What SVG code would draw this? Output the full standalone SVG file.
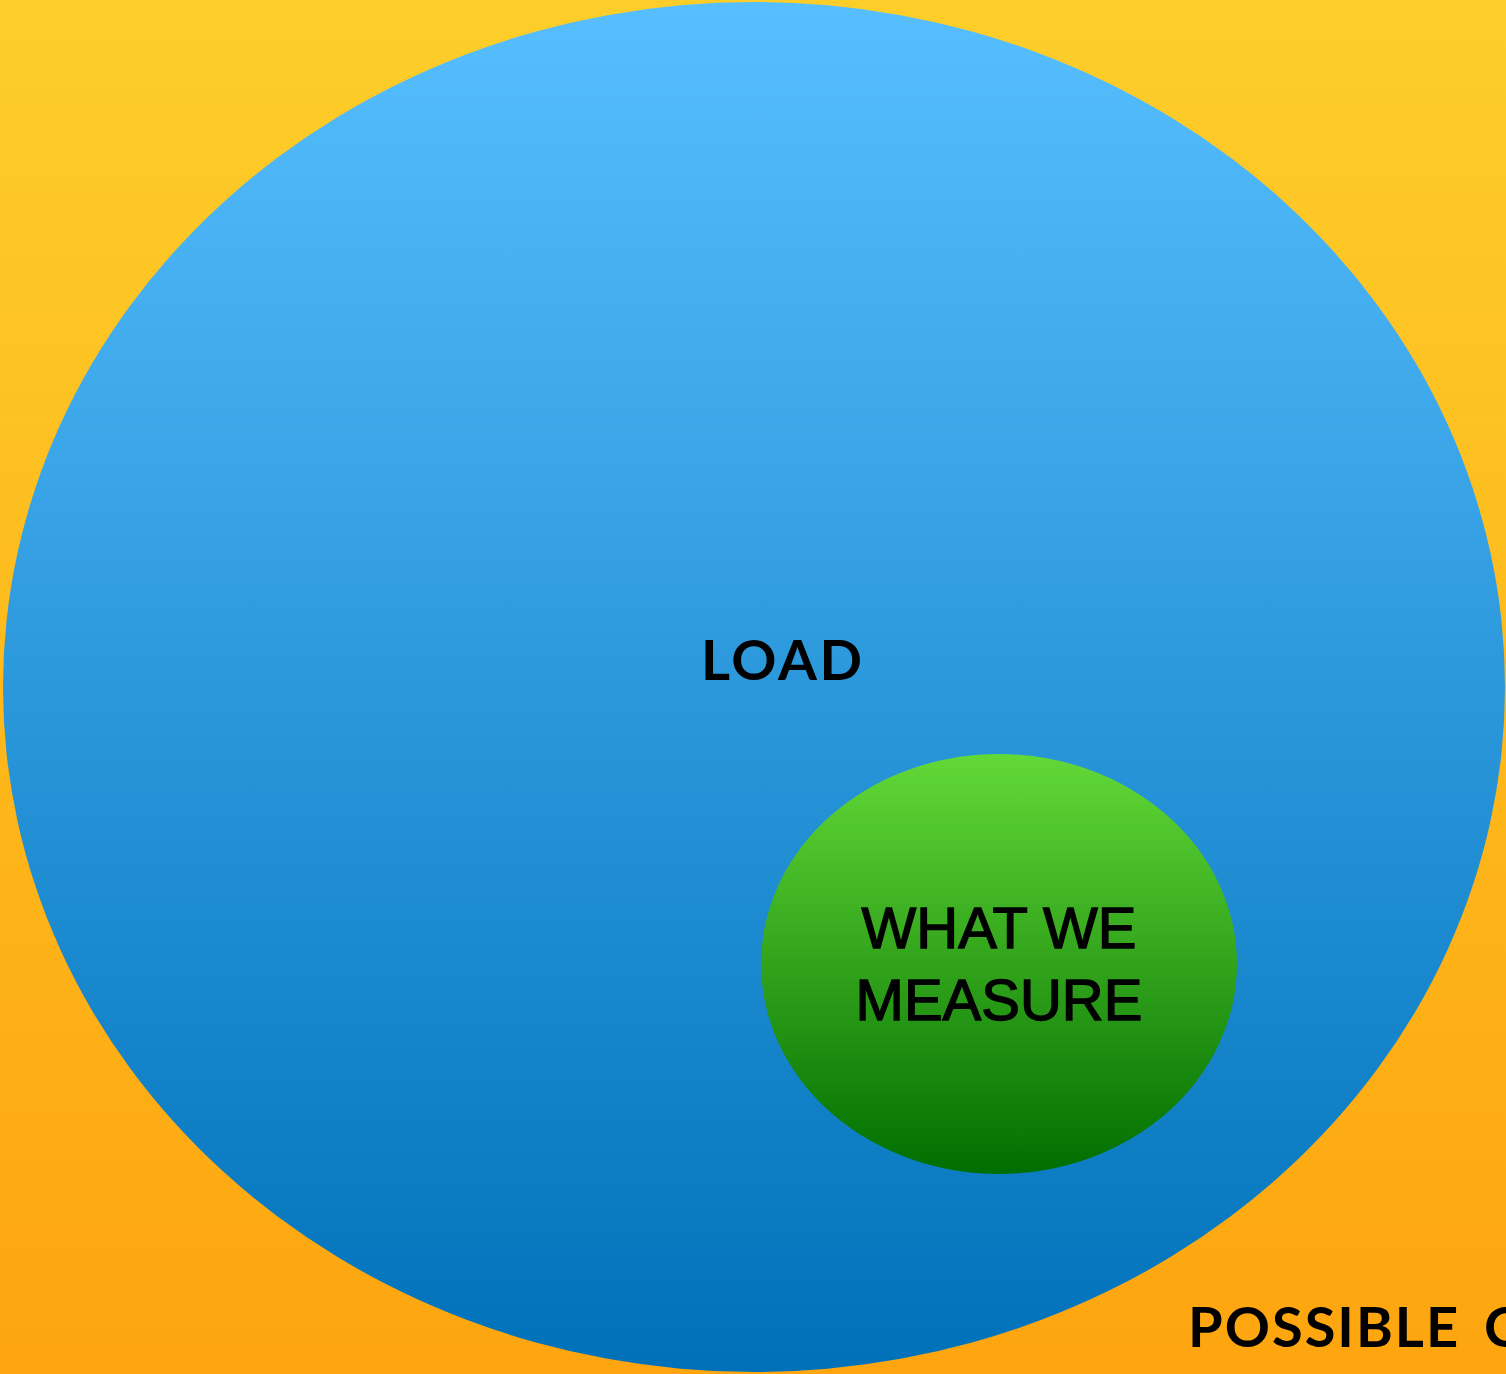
<svg xmlns="http://www.w3.org/2000/svg" width="1506" height="1374" viewBox="0 0 1506 1374">
  <defs>
    <linearGradient id="bg" x1="0" y1="0" x2="0" y2="1">
      <stop offset="0" stop-color="#FDCE2A"/>
      <stop offset="1" stop-color="#FEA50F"/>
    </linearGradient>
    <linearGradient id="blue" x1="0" y1="0" x2="0" y2="1">
      <stop offset="0" stop-color="#57BFFF"/>
      <stop offset="1" stop-color="#0071B9"/>
    </linearGradient>
    <linearGradient id="green" x1="0" y1="0" x2="0" y2="1">
      <stop offset="0" stop-color="#62D937"/>
      <stop offset="1" stop-color="#006E00"/>
    </linearGradient>
  </defs>
  <style>
    .geo { font-family: Lato, "Noto Sans", "Liberation Sans", sans-serif; font-size: 56px; font-weight: 700; fill: #000; }
    .hel { font-family: "Liberation Sans", Arial, sans-serif; font-size: 58px; fill: #000; stroke: #000; stroke-width: 1.4px; text-anchor: middle; }
  </style>
  <rect id="background" x="0" y="0" width="1506" height="1374" fill="url(#bg)"/>
  <g id="load">
    <ellipse cx="754" cy="687" rx="751" ry="685" fill="url(#blue)"/>
    <text class="geo" x="701" y="680" textLength="161" lengthAdjust="spacing">LOAD</text>
  </g>
  <g id="measure">
    <ellipse cx="999" cy="964" rx="238" ry="210" fill="url(#green)"/>
    <text class="hel" x="999" y="948">WHAT WE</text>
    <text class="hel" x="999" y="1020">MEASURE</text>
  </g>
  <g id="possible">
    <text class="geo" x="1188" y="1347"><tspan letter-spacing="2">POSSIBLE</tspan><tspan x="1484">C</tspan></text>
  </g>
  <g id="connectors"/>
</svg>
